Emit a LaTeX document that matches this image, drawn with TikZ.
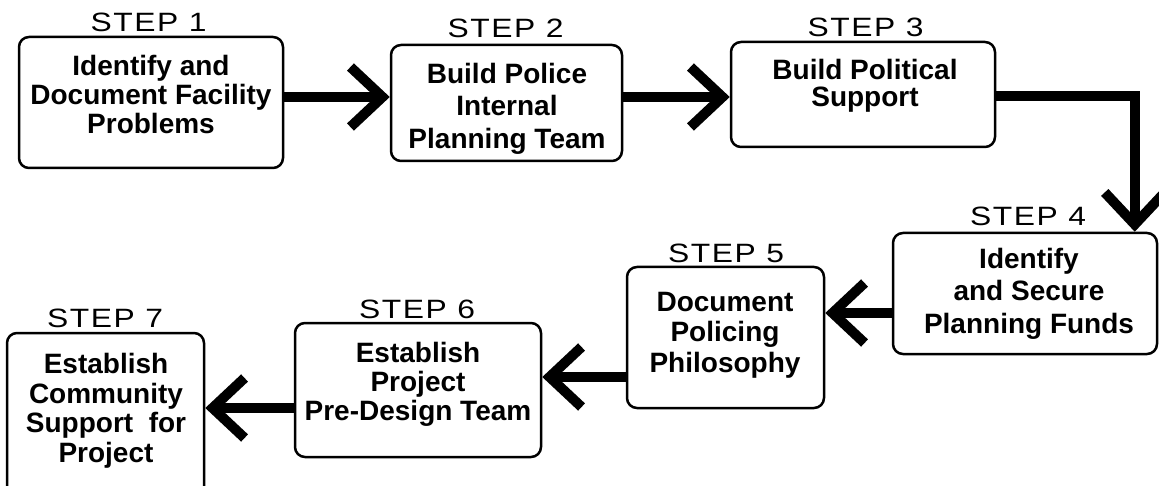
\documentclass[tikz,border=0pt]{standalone}
\usepackage{fontspec}
\setmainfont{Liberation Sans}
\newfontfamily\stepfont[FakeStretch=1.2,LetterSpace=6]{Liberation Sans}
\usetikzlibrary{arrows.meta}

\begin{document}
\begin{tikzpicture}[x=1pt,y=-1pt,
  stepbox/.style={draw, line width=2.5pt, rounded corners=10pt, inner sep=0pt},
  steptext/.style={anchor=north, align=center, inner sep=0pt,
    font=\fontsize{28}{#1}\selectfont\bfseries},
  steptext/.default=30,
  steplabel/.style={anchor=base, inner sep=0pt, font=\fontsize{26.5}{30}\selectfont\stepfont},
  flow/.style={line width=10pt, line join=miter, -{Straight Barb[length=32pt,width=60pt]}}]

\useasboundingbox (0,0) rectangle (1159,486);
\clip (0,0) rectangle (1159,486);

% boxes: number / centre / width / height
\foreach \n/\cx/\cy/\w/\h in {1/151/102.5/264/131, 2/506.5/103/231/116,
    3/863/94.5/264/105, 4/1025/293.5/264/121, 5/725.5/337.5/197/141,
    6/418/390/246/134, 7/105.5/416.5/197/167}
  \node[stepbox, minimum width=\w, minimum height=\h] (s\n) at (\cx,\cy) {};

% step labels
\foreach \n/\x/\y in {1/148.5/32, 2/505.5/38, 3/865.5/37, 4/1028/226,
    5/726/263, 6/417/318, 7/105/327}
  \node[steplabel] (l\n) at (\x,\y) {STEP \n};

% texts
\node[steptext=29] (t1) at (151,55) {Identify and\\Document Facility\\Problems};
\node[steptext=32.5] (t2) at (507,63) {Build Police\\Internal\\Planning Team};
\node[steptext=27] (t3) at (865,59) {Build Political\\Support};
\node[steptext=32.5] (t4) at (1029,248) {Identify\\and Secure\\Planning Funds};
\node[steptext=30.5] (t5) at (725,292) {Document\\Policing\\Philosophy};
\node[steptext=29] (t6) at (418,342) {Establish\\Project\\Pre-Design Team};
\node[steptext=29.7] (t7) at (106,353) {Establish\\Community\\Support\ \ for\\Project};

% arrows
\coordinate (a12) at ([yshift=5.5pt]s1.east);
\coordinate (a23) at ([yshift=6pt]s2.east);
\coordinate (a34) at ([yshift=-1.5pt]s3.east);
\coordinate (a45) at ([yshift=-19.5pt]s4.west);
\coordinate (a56) at ([yshift=-39.5pt]s5.west);
\coordinate (a67) at ([yshift=-18pt]s6.west);

\draw[flow] (a12) -- (a12 -| s2.west);
\draw[flow] (a23) -- (a23 -| s3.west);
\draw[flow] (a34) -| ([xshift=-23.5pt]s4.north east);
\draw[flow] (a45) -- (a45 -| s5.east);
\draw[flow] (a56) -- (a56 -| s6.east);
\draw[flow] (a67) -- (a67 -| s7.east);
\end{tikzpicture}
\end{document}
